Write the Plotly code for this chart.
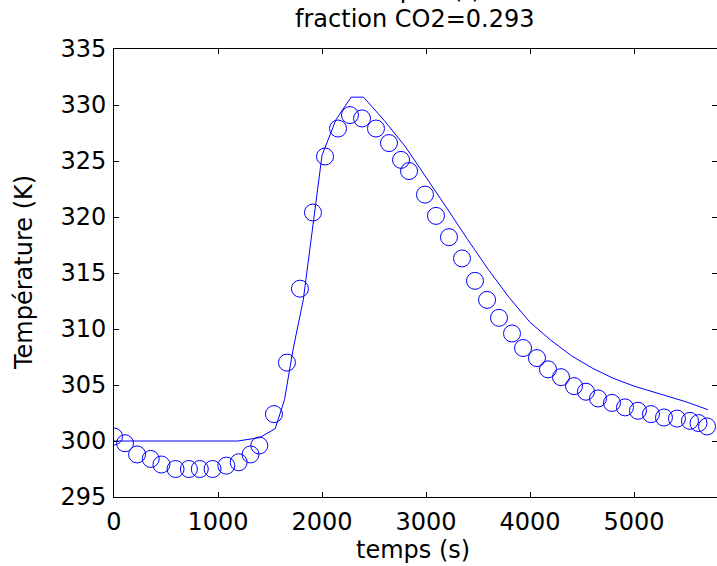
import plotly.graph_objects as go

# Measured temperatures (circles)
t_mes = [0, 106, 222, 353, 456, 592, 720, 825, 948, 1080, 1199, 1313, 1397, 1538, 1663,
         1788, 1913, 2029, 2154, 2269, 2385, 2519, 2644, 2760, 2837, 2990, 3096, 3221,
         3346, 3471, 3587, 3702, 3827, 3933, 4067, 4173, 4298, 4423, 4538, 4654, 4788,
         4913, 5038, 5163, 5288, 5413, 5538, 5620, 5702]
T_mes = [300.4, 299.8, 298.8, 298.4, 297.9, 297.5, 297.5, 297.5, 297.5, 297.8, 298.1, 298.8,
         299.6, 302.4, 307.0, 313.6, 320.4, 325.4, 327.9, 329.1, 328.8, 327.9, 326.6, 325.1,
         324.1, 322.0, 320.1, 318.2, 316.3, 314.3, 312.6, 311.0, 309.6, 308.3, 307.4, 306.4,
         305.7, 304.9, 304.4, 303.8, 303.4, 303.0, 302.7, 302.4, 302.1, 302.0, 301.8, 301.6, 301.3]

# Simulated temperature (line)
t_sim = [0, 1190, 1400, 1550, 1640, 1720, 1820, 1920, 2000, 2135, 2280, 2400, 2600, 2800,
         3000, 3200, 3400, 3600, 3800, 4000, 4200, 4400, 4600, 4800, 5000, 5250, 5500, 5710]
T_sim = [300.0, 300.0, 300.3, 301.1, 303.7, 308.1, 312.6, 319.8, 325.5, 328.7, 330.7, 330.7,
         328.6, 326.3, 323.6, 320.8, 318.0, 315.3, 312.8, 310.6, 309.0, 307.6, 306.5, 305.6,
         304.9, 304.2, 303.5, 302.8]

x_ticks = [0, 1000, 2000, 3000, 4000, 5000]
y_ticks = [295, 300, 305, 310, 315, 320, 325, 330, 335]

title_line1 = "Tempér. (t)"
title_line2 = "fraction CO2=0.293"
x_title = "temps (s)"
y_title = "Température (K)"

FONT = "DejaVu Sans, Liberation Sans, Arial, sans-serif"
FS = 24
BLUE = "#0000ff"

fig = go.Figure()
fig.add_trace(go.Scatter(x=t_sim, y=T_sim, mode="lines",
                         line=dict(color=BLUE, width=1), showlegend=False))
fig.add_trace(go.Scatter(x=t_mes, y=T_mes, mode="markers",
                         marker=dict(symbol="circle-open", size=17,
                                     line=dict(color=BLUE, width=1), color=BLUE),
                         showlegend=False))

W, H = 717, 566
L, R, T, B = 114, 0, 49, 69
ph = H - T - B
pw = W - L - R

def py2paper(py):
    return (H - B - py) / ph

def px2paper(px):
    return (px - L) / pw

axis_common = dict(showline=True, linecolor="black", linewidth=1, mirror="ticks",
                   ticks="inside", ticklen=5, tickcolor="black", tickwidth=1,
                   showgrid=False, zeroline=False,
                   tickfont=dict(family=FONT, size=FS, color="black"))

fig.update_xaxes(range=[0, 5798], tickvals=x_ticks, ticktext=[str(v) for v in x_ticks],
                 ticklabelstandoff=3, **axis_common)
fig.update_yaxes(range=[295, 335], tickvals=y_ticks, ticktext=[str(v) for v in y_ticks],
                 ticklabelstandoff=2, **axis_common)

annotations = [
    dict(text=title_line1, x=px2paper(415), y=py2paper(-10), xref="paper", yref="paper",
         xanchor="center", yanchor="middle", showarrow=False,
         font=dict(family=FONT, size=FS, color="black")),
    dict(text=title_line2, x=px2paper(415), y=py2paper(19), xref="paper", yref="paper",
         xanchor="center", yanchor="middle", showarrow=False,
         font=dict(family=FONT, size=FS, color="black")),
    dict(text=x_title, x=px2paper(413), y=py2paper(550), xref="paper", yref="paper",
         xanchor="center", yanchor="middle", showarrow=False,
         font=dict(family=FONT, size=FS, color="black")),
    dict(text=y_title, x=px2paper(24), y=py2paper(273), xref="paper", yref="paper",
         xanchor="center", yanchor="middle", showarrow=False, textangle=-90,
         font=dict(family=FONT, size=FS, color="black")),
]

fig.update_layout(width=W, height=H, margin=dict(l=L, r=R, t=T, b=B, pad=0),
                  paper_bgcolor="white", plot_bgcolor="white",
                  annotations=annotations, showlegend=False)

fig.write_html("out.html", config={"displayModeBar": False},
               post_script="document.body.style.margin='0';document.body.style.overflow='hidden';")
